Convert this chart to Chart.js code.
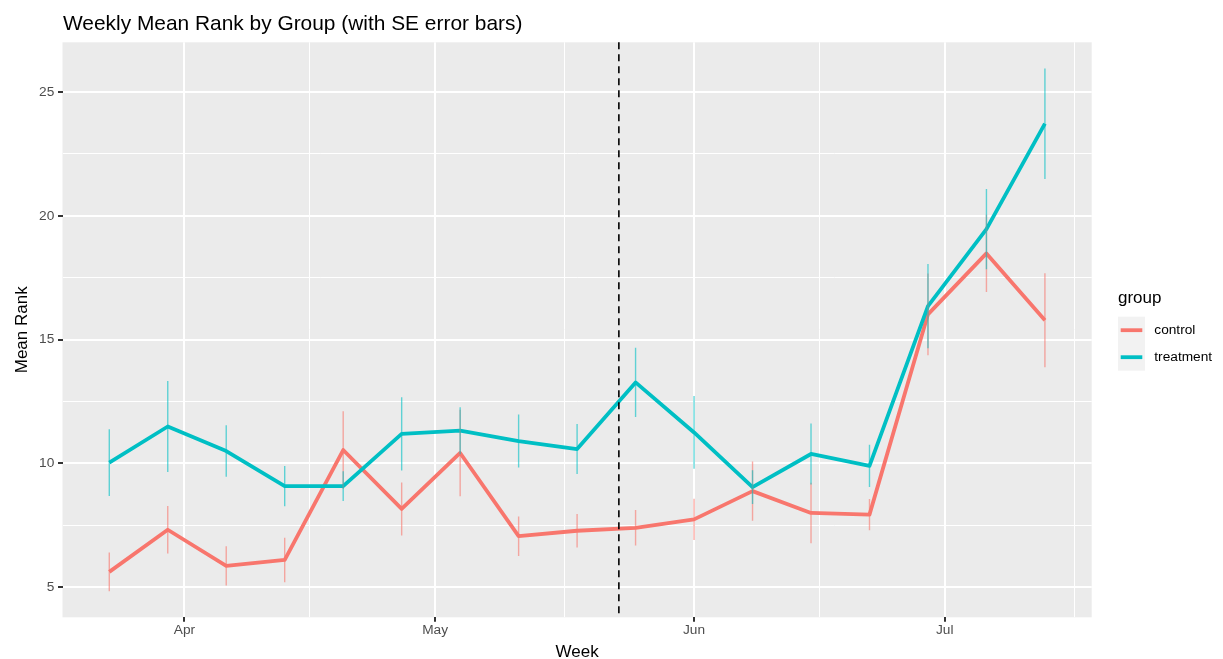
<!DOCTYPE html>
<html>
<head>
<meta charset="utf-8">
<title>Weekly Mean Rank by Group</title>
<script src="https://cdn.jsdelivr.net/npm/chart.js@4.4.1/dist/chart.umd.min.js"></script>
<style>
  html, body { margin: 0; padding: 0; background: #ffffff; }
  canvas { display: block; }
</style>
</head>
<body>
<canvas id="chart" width="1223" height="659"></canvas>
<script>
// Week start dates (Mondays)
const weeks = [
  '2020-03-23', '2020-03-30', '2020-04-06', '2020-04-13', '2020-04-20', '2020-04-27',
  '2020-05-04', '2020-05-11', '2020-05-18', '2020-05-25', '2020-06-01', '2020-06-08',
  '2020-06-15', '2020-06-22', '2020-06-29', '2020-07-06', '2020-07-13'
];

// Weekly mean rank and standard error, per group
const controlMean = [5.62, 7.32, 5.86, 6.10, 10.54, 8.16, 10.42, 7.06, 7.28, 7.40, 7.74, 8.88, 8.00, 7.93, 16.02, 18.48, 15.78];
const controlSE   = [0.78, 0.96, 0.79, 0.90, 1.57, 1.07, 1.75, 0.80, 0.68, 0.72, 0.83, 1.20, 1.22, 0.63, 1.65, 1.56, 1.90];
const treatmentMean = [10.03, 11.49, 10.50, 9.08, 9.08, 11.19, 11.32, 10.90, 10.58, 13.27, 11.25, 9.04, 10.38, 9.90, 16.35, 19.46, 23.72];
const treatmentSE   = [1.35, 1.84, 1.04, 0.81, 0.60, 1.48, 0.95, 1.07, 1.01, 1.40, 1.47, 0.68, 1.23, 0.85, 1.70, 1.62, 2.23];

// Axis breaks and labels
const monthTicks  = ['2020-04-01', '2020-05-01', '2020-06-01', '2020-07-01'];
const monthLabels = ['Apr', 'May', 'Jun', 'Jul'];
const monthBounds = ['2020-03-01', '2020-04-01', '2020-05-01', '2020-06-01', '2020-07-01', '2020-08-01'];
const rankTicks   = [5, 10, 15, 20, 25];

// Intervention week marker
const cutoffDate = '2020-05-23';

const groups = ['control', 'treatment'];
const groupColors = { control: '#F8766D', treatment: '#00BFC4' };
const errColors   = { control: 'rgba(248,118,109,0.6)', treatment: 'rgba(0,191,196,0.6)' };

const FONT = "'Liberation Sans', Arial, Helvetica, sans-serif";
const DAY = 86400000;
const ORIGIN = Date.parse('2020-04-01T00:00:00Z');
const toDay = s => (Date.parse(s + 'T00:00:00Z') - ORIGIN) / DAY;

const xs = weeks.map(toDay);

function linePoints(means) {
  return xs.map((x, i) => ({ x, y: means[i] }));
}
function errorPoints(means, se) {
  const pts = [];
  xs.forEach((x, i) => {
    pts.push({ x, y: means[i] - se[i] });
    pts.push({ x, y: means[i] + se[i] });
    pts.push({ x, y: null });
  });
  return pts;
}

// ggplot-style 5% expansion of the data range
const xLo = Math.min(...xs), xHi = Math.max(...xs);
const xPad = (xHi - xLo) * 0.05;
const allLow  = controlMean.map((m, i) => m - controlSE[i]).concat(treatmentMean.map((m, i) => m - treatmentSE[i]));
const allHigh = controlMean.map((m, i) => m + controlSE[i]).concat(treatmentMean.map((m, i) => m + treatmentSE[i]));
const yLo = Math.min(...allLow), yHi = Math.max(...allHigh);
const yPad = (yHi - yLo) * 0.05;
const xMin = xLo - xPad, xMax = xHi + xPad;
const yMin = yLo - yPad, yMax = yHi + yPad;

// Minor breaks sit halfway between major breaks
const monthDays = monthBounds.map(toDay);
const xMinor = [];
for (let i = 0; i < monthDays.length - 1; i++) {
  const v = (monthDays[i] + monthDays[i + 1]) / 2;
  if (v > xMin && v < xMax) xMinor.push(v);
}
const yMinor = [];
for (let v = rankTicks[0] - 2.5; v <= yMax; v += 5) {
  if (v > yMin && v < yMax) yMinor.push(v);
}

const xMajor = monthTicks.map(toDay);

function tickSet(major, minor) {
  return major.map(v => ({ value: v, minor: false }))
    .concat(minor.map(v => ({ value: v, minor: true })));
}

const gridStyle = {
  color: '#FFFFFF',
  lineWidth: ctx => (ctx.tick && ctx.tick.minor) ? 1 : 2,
  tickColor: ctx => (ctx.tick && ctx.tick.minor) ? 'rgba(0,0,0,0)' : '#333333',
  tickLength: 4.5,
  drawTicks: true,
  drawOnChartArea: true
};

const decor = {
  id: 'decor',
  beforeDraw(chart) {
    const { ctx, chartArea: a } = chart;
    ctx.save();
    ctx.fillStyle = '#EBEBEB';
    ctx.fillRect(a.left, a.top, a.right - a.left, a.bottom - a.top);
    ctx.restore();
  },
  afterDatasetsDraw(chart) {
    const { ctx, chartArea: a, scales } = chart;
    const px = scales.x.getPixelForValue(toDay(cutoffDate));
    ctx.save();
    ctx.beginPath();
    ctx.setLineDash([7, 5]);
    ctx.lineWidth = 1.6;
    ctx.strokeStyle = '#000000';
    ctx.moveTo(px, a.top);
    ctx.lineTo(px, a.bottom);
    ctx.stroke();
    ctx.restore();
  },
  afterDraw(chart) {
    const { ctx, chartArea: a } = chart;
    ctx.save();
    ctx.fillStyle = '#000000';
    ctx.textBaseline = 'alphabetic';

    // plot title
    ctx.font = `20.9px ${FONT}`;
    ctx.textAlign = 'left';
    ctx.fillText('Weekly Mean Rank by Group (with SE error bars)', a.left + 0.5, 29.5);

    // axis titles
    ctx.font = `17px ${FONT}`;
    ctx.textAlign = 'center';
    ctx.fillText('Week', (a.left + a.right) / 2, 657);
    ctx.save();
    ctx.translate(27, (a.top + a.bottom) / 2);
    ctx.rotate(-Math.PI / 2);
    ctx.fillText('Mean Rank', 0, 0);
    ctx.restore();

    // legend
    const lx = 1118, ly = 316.7, key = 27;
    ctx.textAlign = 'left';
    ctx.font = `17px ${FONT}`;
    ctx.fillText('group', lx, 303);
    ctx.fillStyle = '#F2F2F2';
    ctx.fillRect(lx, ly, key, key * groups.length);
    ctx.font = `13.7px ${FONT}`;
    ctx.textBaseline = 'middle';
    groups.forEach((g, i) => {
      const cy = ly + key * i + key / 2;
      ctx.beginPath();
      ctx.strokeStyle = groupColors[g];
      ctx.lineWidth = 3.8;
      ctx.moveTo(lx + 2.7, cy);
      ctx.lineTo(lx + key - 2.7, cy);
      ctx.stroke();
      ctx.fillStyle = '#000000';
      ctx.fillText(g, lx + 36.3, cy + 0.5);
    });
    ctx.restore();
  }
};

new Chart(document.getElementById('chart'), {
  type: 'line',
  data: {
    datasets: [
      {
        label: 'treatment SE',
        data: errorPoints(treatmentMean, treatmentSE),
        borderColor: errColors.treatment,
        borderWidth: 1.4,
        spanGaps: false,
        pointRadius: 0,
        order: 0
      },
      {
        label: 'control SE',
        data: errorPoints(controlMean, controlSE),
        borderColor: errColors.control,
        borderWidth: 1.4,
        spanGaps: false,
        pointRadius: 0,
        order: 1
      },
      {
        label: 'treatment',
        data: linePoints(treatmentMean),
        borderColor: groupColors.treatment,
        borderWidth: 3.8,
        pointRadius: 0,
        tension: 0,
        borderJoinStyle: 'round',
        order: 2
      },
      {
        label: 'control',
        data: linePoints(controlMean),
        borderColor: groupColors.control,
        borderWidth: 3.8,
        pointRadius: 0,
        tension: 0,
        borderJoinStyle: 'round',
        order: 3
      }
    ]
  },
  options: {
    responsive: false,
    animation: false,
    events: [],
    layout: { padding: { top: 42.3, right: 131.3, bottom: 0, left: 0 } },
    plugins: {
      legend: { display: false },
      title: { display: false },
      tooltip: { enabled: false }
    },
    scales: {
      x: {
        type: 'linear',
        min: xMin,
        max: xMax,
        border: { display: false },
        grid: gridStyle,
        afterBuildTicks: s => { s.ticks = tickSet(xMajor, xMinor); },
        afterFit: s => { s.height = 41.7; },
        ticks: {
          autoSkip: false,
          maxRotation: 0,
          padding: 0.5,
          color: '#4D4D4D',
          font: { family: FONT, size: 13.7 },
          callback: (v, i, ticks) => {
            const k = xMajor.indexOf(v);
            return k >= 0 ? monthLabels[k] : '';
          }
        }
      },
      y: {
        type: 'linear',
        min: yMin,
        max: yMax,
        border: { display: false },
        grid: gridStyle,
        afterBuildTicks: s => { s.ticks = tickSet(rankTicks, yMinor); },
        afterFit: s => { s.width = 62.5; },
        ticks: {
          autoSkip: false,
          padding: 3.7,
          color: '#4D4D4D',
          font: { family: FONT, size: 13.7 },
          callback: (v) => rankTicks.includes(v) ? String(v) : ''
        }
      }
    }
  },
  plugins: [decor]
});
</script>
</body>
</html>
